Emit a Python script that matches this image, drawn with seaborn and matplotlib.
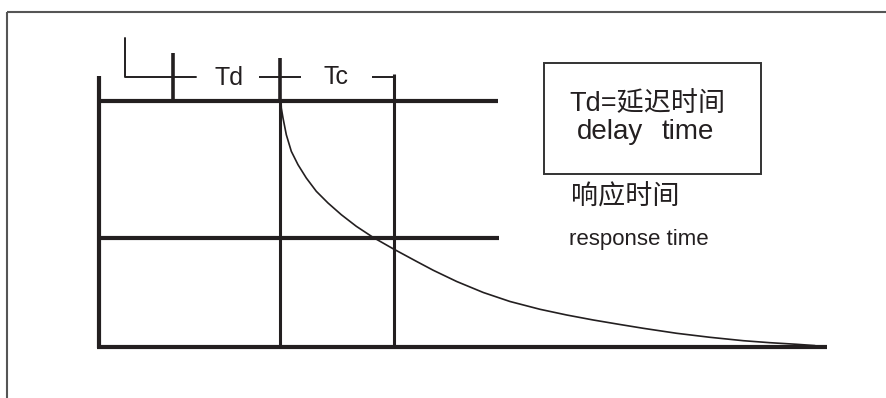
import matplotlib.pyplot as plt
import seaborn as sns
import pandas as pd

# response curve (pixel units, y grows downward)
curve_x = [281, 281.3, 283, 286.3, 291.3, 298, 306.3, 316.3, 328, 341.3, 356.3, 373, 393, 408,
           416.7, 433.3, 456.7, 483.3, 510, 540, 566.7, 593.3, 620, 643.3, 676.7, 710, 743.3,
           770, 796.7, 815]
curve_y = [101, 108, 118, 134.7, 151.3, 164.7, 178, 191.3, 203, 214.7, 226.3, 237.3, 248.7, 256.8,
           261.5, 270.3, 281.5, 292.5, 301.5, 309.3, 315, 320, 324.5, 328.3, 333.3, 337.3, 340.7,
           342.7, 344.3, 345.6]

label_td = "Td"
label_tc = "Tc"
box_line1 = "Td=延迟时间"
box_words2 = ["delay", "time"]
resp_cn = "响应时间"
resp_en = "response time"

INK = "#231f20"
FONTS = ["Liberation Sans", "Noto Sans CJK SC", "DejaVu Sans"]

sns.set_theme(style="white")
plt.rcParams["font.family"] = FONTS

fig = plt.figure(figsize=(8.87, 3.98), dpi=100)
ax = fig.add_axes([0, 0, 1, 1])

# outer frame (top and left only)
ax.plot([7, 887], [12, 12], color="#555555", lw=1.5, solid_capstyle="butt")
ax.plot([7, 7], [12, 398], color="#555555", lw=1.5, solid_capstyle="butt")

# grid of thick lines
ax.hlines(100.5, 99, 498, color=INK, lw=3.0)
ax.hlines(237.5, 99, 499, color=INK, lw=3.0)
ax.hlines(346.5, 97, 827, color=INK, lw=3.0)
ax.vlines(99, 76, 348, color=INK, lw=3.0)
ax.vlines(173.5, 53, 100, color=INK, lw=2.6)
ax.vlines(280.5, 58, 100, color=INK, lw=2.6)
ax.vlines(280.5, 100, 347, color=INK, lw=2.2)
ax.vlines(394, 74, 347, color=INK, lw=2.2)

# bracket and dimension segments above the grid
ax.plot([125, 125, 196], [38, 77, 77], color=INK, lw=1.4)
ax.hlines(77, 259, 301, color=INK, lw=1.4)
ax.hlines(77, 372, 394, color=INK, lw=1.4)
ax.text(229, 78, label_td, ha="center", va="center", fontsize=18, color=INK)
ax.text(336, 77, label_tc, ha="center", va="center", fontsize=18, color=INK)

# response curve
df = pd.DataFrame({"x": curve_x, "y": curve_y})
sns.lineplot(data=df, x="x", y="y", ax=ax, color=INK, lw=1.2, sort=False)
ax.set_xlim(0, 887)
ax.set_ylim(398, 0)
ax.axis("off")

# legend box
ax.add_patch(plt.Rectangle((544, 63), 217, 111, fill=False, edgecolor="#333333", lw=1.4))
ax.text(647, 104, box_line1, ha="center", va="center", fontsize=19.5, color=INK)
ax.text(610, 132, box_words2[0], ha="center", va="center", fontsize=20, color=INK)
ax.text(688, 132, box_words2[1], ha="center", va="center", fontsize=20, color=INK)

ax.text(571, 198, resp_cn, ha="left", va="center", fontsize=19.5, color=INK)
ax.text(569, 239, resp_en, ha="left", va="center", fontsize=16, color=INK)

fig.savefig("out.png", dpi=100)
